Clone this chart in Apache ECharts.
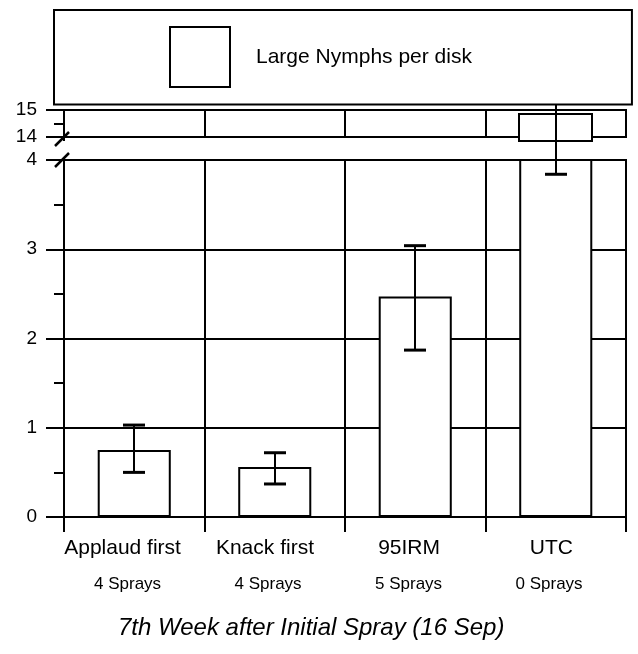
<!DOCTYPE html>
<html><head><meta charset="utf-8">
<script src="https://cdn.jsdelivr.net/npm/echarts@6/dist/echarts.min.js"></script>
<style>html,body{margin:0;padding:0;background:#fff}#c{width:638px;height:654px}</style>
</head><body><div id="c"></div>
<script>
// ---- data ----
const categories = ['Applaud first', 'Knack first', '95IRM', 'UTC'];
const sprayLabels = ['4 Sprays', '4 Sprays', '5 Sprays', '0 Sprays'];
const meanValues = [0.75, 0.56, 2.47, 14.86];
const errLow = [0.50, 0.37, 1.87, 3.84];
const errHigh = [1.03, 0.72, 3.04, 15.3];
const lowerRange = [0, 4];
const upperRange = [14, 15];
const upperBarBase = 13.85;
const seriesName = 'Large Nymphs per disk';
const titleText = '7th Week after Initial Spray (16 Sep)';

// ---- layout / style ----
const F = '"Liberation Sans", Arial, Helvetica, sans-serif';
const L = 64, R = 12;
const UP = { top: 110, height: 27 };
const LOW = { top: 160, height: 357 };
const GAP = LOW.top - (UP.top + UP.height);
const LS = { color: '#000', width: 2 };

const ctx = document.createElement('canvas').getContext('2d');
function tw(t, size) { ctx.font = size + 'px ' + F; return ctx.measureText(t).width; }

const rich = {};
categories.forEach((c, i) => {
  rich['n' + i] = { fontSize: 21, fontFamily: F, color: '#000', lineHeight: 24, padding: [0, 0.2 * tw(c, 21), 0, 0] };
  rich['s' + i] = { fontSize: 17, fontFamily: F, color: '#000', lineHeight: 48, padding: [0, 0.2 * tw(sprayLabels[i], 17), 0, 0] };
});

function errLowerItem(params, api) {
  const i = api.value(0), lo = api.value(1), hi = api.value(2);
  const cs = params.coordSys;
  const pl = api.coord([i, lo]), ph = api.coord([i, hi]);
  const x = Math.round(pl[0]), c = 11;
  const hiInside = ph[1] >= cs.y - 0.5;
  const yEnd = hiInside ? ph[1] : cs.y - GAP;
  const ch = [
    { type: 'line', shape: { x1: x, y1: pl[1], x2: x, y2: yEnd }, style: { stroke: '#000', lineWidth: 2 } },
    { type: 'line', shape: { x1: x - c, y1: pl[1], x2: x + c, y2: pl[1] }, style: { stroke: '#000', lineWidth: 3 } }
  ];
  if (hiInside) ch.push({ type: 'line', shape: { x1: x - c, y1: ph[1], x2: x + c, y2: ph[1] }, style: { stroke: '#000', lineWidth: 3 } });
  return { type: 'group', children: ch };
}
function errUpperItem(params, api) {
  const i = api.value(0), lo = api.value(1), hi = api.value(2);
  if (hi <= upperRange[0]) return null;
  const cs = params.coordSys;
  const ph = api.coord([i, hi]);
  const pl = api.coord([i, Math.max(lo, upperRange[0])]);
  const x = Math.round(ph[0]), c = 11;
  const yEnd = lo < upperRange[0] ? cs.y + cs.height : pl[1];
  return { type: 'group', children: [
    { type: 'line', shape: { x1: x, y1: ph[1], x2: x, y2: yEnd }, style: { stroke: '#000', lineWidth: 2 } },
    { type: 'line', shape: { x1: x - c, y1: ph[1], x2: x + c, y2: ph[1] }, style: { stroke: '#000', lineWidth: 3 } }
  ] };
}
function upperBoxItem(params, api) {
  const i = api.value(0), v = api.value(1), base = api.value(2);
  const pt = api.coord([i, v]), pb = api.coord([i, base]);
  const w = api.size([1, 0])[0] * 0.52;
  return { type: 'rect', shape: { x: Math.round(pt[0] - w / 2), y: Math.round(pt[1]), width: Math.round(w), height: Math.round(pb[1] - pt[1]) },
    style: { fill: '#fff', stroke: '#000', lineWidth: 2 } };
}

const errData = categories.map((c, i) => [i, errLow[i], errHigh[i]]);
const upperBoxData = meanValues.map((v, i) => [i, v, upperBarBase]).filter(d => d[1] > upperRange[0]);

function yAxisCfg(gi, range) {
  return {
    gridIndex: gi, type: 'value', min: range[0], max: range[1], interval: 1,
    axisLine: { show: true, lineStyle: LS },
    axisTick: { show: true, length: 18, lineStyle: LS },
    minorTick: { show: true, splitNumber: 2, length: 10, lineStyle: LS },
    axisLabel: { color: '#000', fontSize: 19, fontFamily: F, margin: 27 },
    splitLine: { show: true, lineStyle: LS }
  };
}

const option = {
  animation: false,
  backgroundColor: '#fff',
  title: {
    text: titleText, left: 118, top: 613, padding: 0,
    textStyle: { fontSize: 24, fontStyle: 'italic', fontWeight: 'normal', color: '#000', fontFamily: F, lineHeight: 30 }
  },
  legend: {
    data: [seriesName], left: 54, top: 10, padding: [16, 160, 16.5, 115],
    itemWidth: 60, itemHeight: 60, icon: 'rect', selectedMode: false,
    itemStyle: { color: '#fff', borderColor: '#000', borderWidth: 2 },
    textStyle: { fontSize: 21, fontFamily: F, color: '#000', padding: [0, 0, 0, 21], width: 230 },
    borderColor: '#000', borderWidth: 2, backgroundColor: '#fff'
  },
  grid: [
    { left: L, right: R, top: UP.top, height: UP.height, show: true, borderColor: '#000', borderWidth: 2, backgroundColor: 'transparent' },
    { left: L, right: R, top: LOW.top, height: LOW.height, show: true, borderColor: '#000', borderWidth: 2, backgroundColor: 'transparent' }
  ],
  xAxis: [
    { gridIndex: 0, type: 'category', data: categories, axisLine: { show: false }, axisTick: { show: false },
      axisLabel: { show: false }, splitLine: { show: true, interval: 0, lineStyle: LS } },
    { gridIndex: 1, type: 'category', data: categories, axisLine: { show: true, lineStyle: LS },
      axisTick: { show: true, length: 15, interval: 0, lineStyle: LS },
      axisLabel: { interval: 0, margin: 19, formatter: (v, i) => '{n' + i + '|' + v + '}\n{s' + i + '|' + sprayLabels[i] + '}', rich: rich },
      splitLine: { show: true, interval: 0, lineStyle: LS } }
  ],
  yAxis: [yAxisCfg(0, upperRange), yAxisCfg(1, lowerRange)],
  series: [
    { name: seriesName, type: 'bar', xAxisIndex: 1, yAxisIndex: 1, data: meanValues, barWidth: '52%',
      itemStyle: { color: '#fff', borderColor: '#000', borderWidth: 2 }, z: 2 },
    { type: 'custom', xAxisIndex: 0, yAxisIndex: 0, data: upperBoxData, renderItem: upperBoxItem,
      encode: { x: 0, y: [1, 2] }, z: 2, silent: true },
    { type: 'custom', xAxisIndex: 1, yAxisIndex: 1, data: errData, renderItem: errLowerItem,
      encode: { x: 0, y: [1, 2] }, z: 3, clip: false, silent: true },
    { type: 'custom', xAxisIndex: 0, yAxisIndex: 0, data: errData, renderItem: errUpperItem,
      encode: { x: 0, y: [1, 2] }, z: 3, clip: false, silent: true }
  ]
};

const chart = echarts.init(document.getElementById('c'), null, { renderer: 'canvas' });
chart.setOption(option);

const y14 = chart.convertToPixel({ yAxisIndex: 0 }, upperRange[0]);
const y4 = chart.convertToPixel({ yAxisIndex: 1 }, lowerRange[1]);
chart.setOption({
  graphic: [
    { type: 'line', shape: { x1: L, y1: y14, x2: L, y2: y14 + 4 }, style: { stroke: '#000', lineWidth: 2 }, z: 10 },
    { type: 'line', shape: { x1: L - 9, y1: y14 + 9, x2: L + 5, y2: y14 - 5 }, style: { stroke: '#000', lineWidth: 2.5 }, z: 10 },
    { type: 'line', shape: { x1: L - 9, y1: y4 + 7, x2: L + 5, y2: y4 - 7 }, style: { stroke: '#000', lineWidth: 2.5 }, z: 10 }
  ]
});
</script></body></html>
